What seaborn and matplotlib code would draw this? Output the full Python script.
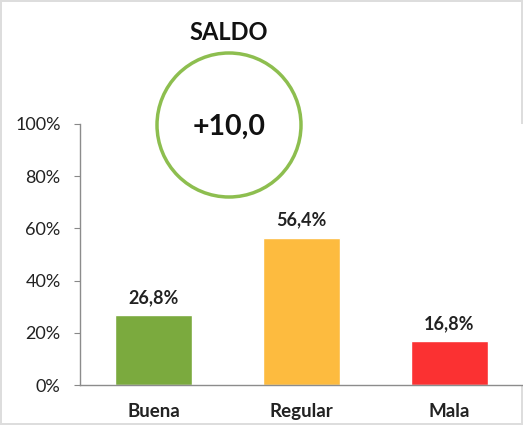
import matplotlib
matplotlib.use("Agg")
import matplotlib.pyplot as plt
from matplotlib.patches import Ellipse
from matplotlib.ticker import FixedLocator
import seaborn as sns
import pandas as pd

# data
categories = ["Buena", "Regular", "Mala"]
values = [26.8, 56.4, 16.8]
bar_colors = ["#7BAA3E", "#FDBB3F", "#FB3132"]
saldo_label = "+10,0"
yticks = [0, 20, 40, 60, 80, 100]

sns.set_style("white")
plt.rcParams["font.family"] = ["Lato", "DejaVu Sans"]

df = pd.DataFrame({"cat": categories, "val": values})

fig = plt.figure(figsize=(5.23, 4.25), dpi=100)
ax = fig.add_axes([80 / 523, 1 - 385 / 425, 443 / 523, (385 - 124) / 425])

sns.barplot(data=df, x="cat", y="val", hue="cat", palette=bar_colors,
            width=0.52, legend=False, ax=ax, saturation=1)

for i, v in enumerate(values):
    ax.text(i, v + 3.5, f"{v:.1f}%".replace(".", ","), ha="center", va="bottom",
            fontsize=13, fontweight="bold", color="#222222")

ax.set_ylim(0, 100)
ax.set_xlim(-0.5, 2.5)
ax.set_yticks(yticks)
ax.set_yticklabels([f"{t}%" for t in yticks], fontsize=13, color="#222222")
ax.set_xticks(range(len(categories)))
ax.set_xticklabels(categories, fontsize=13.5, fontweight="bold", color="#222222")
ax.tick_params(axis="x", length=0, pad=13)
ax.xaxis.set_minor_locator(FixedLocator([0.5, 1.5]))
ax.tick_params(axis="x", which="minor", length=4, color="#888888", direction="out")
ax.tick_params(axis="y", length=4, color="#888888", direction="out", left=True, pad=10)
ax.set_xlabel("")
ax.set_ylabel("")
for s in ["top", "right"]:
    ax.spines[s].set_visible(False)
for s in ["left", "bottom"]:
    ax.spines[s].set_color("#8c8c8c")
    ax.spines[s].set_linewidth(1)

# title and saldo circle
fig.text(229 / 523, 1 - 32 / 425, "SALDO", ha="center", va="center",
         fontsize=17, fontweight="bold", color="#111111")
fig.add_artist(Ellipse((229 / 523, 1 - 125 / 425), 144 / 523, 144 / 425,
                       transform=fig.transFigure, fill=False,
                       edgecolor="#8DBE4F", linewidth=2.5))
fig.text(229 / 523, 1 - 127 / 425, saldo_label, ha="center", va="center",
         fontsize=20.5, fontweight="bold", color="#111111")

fig.patch.set_edgecolor("#dddddd")
fig.patch.set_linewidth(1.5)

fig.savefig("out.png", dpi=100)
